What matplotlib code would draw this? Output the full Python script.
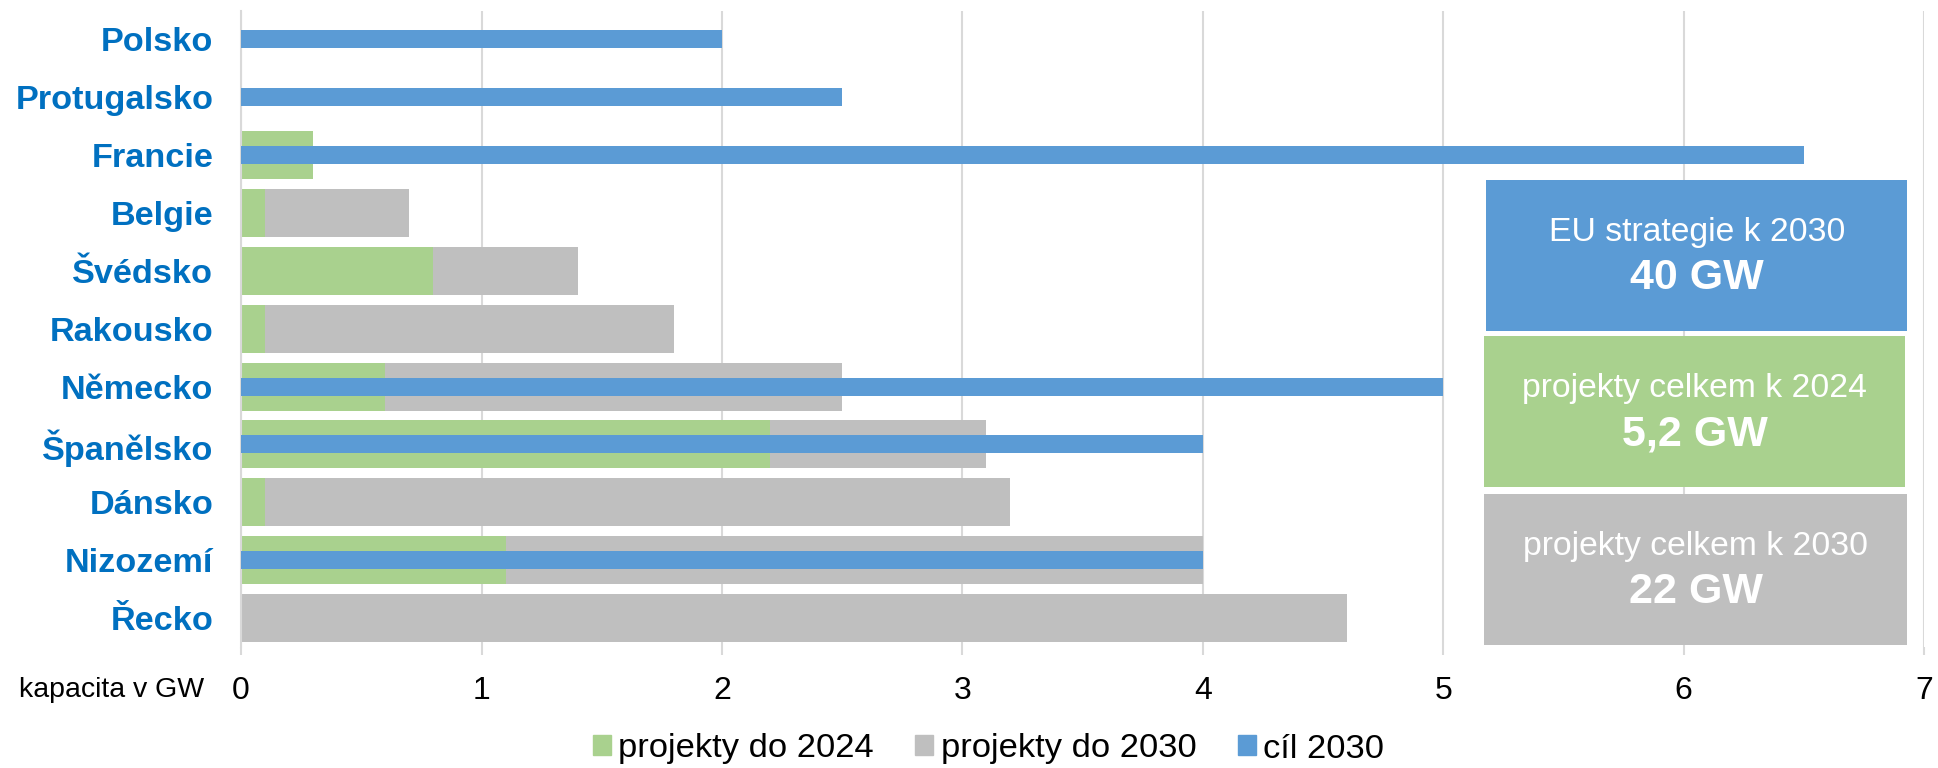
# ------------------ # Kapacita - projekty a cíle do 2030 # ------------------ #
import matplotlib.pyplot as plt
from matplotlib.patches import Patch, Rectangle

plt.rcParams['font.family'] = ['Liberation Sans', 'DejaVu Sans']

# ------------------------- # Data z grafu # ------------------------ #
zeme = ['Polsko', 'Protugalsko', 'Francie', 'Belgie', 'Švédsko', 'Rakousko',
        'Německo', 'Španělsko', 'Dánsko', 'Nizozemí', 'Řecko']
projekty_2024 = [0, 0, 0.3, 0.1, 0.8, 0.1, 0.6, 2.2, 0.1, 1.1, 0]
projekty_2030 = [0, 0, 0.3, 0.7, 1.4, 1.8, 2.5, 3.1, 3.2, 4.0, 4.6]  # celkem
cil_2030 = [2.0, 2.5, 6.5, 0, 0, 0, 5.0, 4.0, 0, 4.0, 0]

osa_ticky = [0, 1, 2, 3, 4, 5, 6, 7]
legenda = ['projekty do 2024', 'projekty do 2030', 'cíl 2030']

souhrn_popisky = ['EU strategie k 2030', 'projekty celkem k 2024',
                  'projekty celkem k 2030']
souhrn_hodnoty = ['40 GW', '5,2 GW', '22 GW']

# Barvy
zelena = '#A9D18E'
seda = '#BFBFBF'
modra = '#5B9BD5'
text_modra = '#0070C0'

fig = plt.figure(figsize=(19.38, 7.68), dpi=100)
ax = fig.add_axes([0.1244, 0.1576, 0.8684, 0.8287])

y = list(range(len(zeme)))
zbytek = [c - z for c, z in zip(projekty_2030, projekty_2024)]

# Sloupce (zelená + šedá skládaně, modrá přes ně uprostřed)
ax.barh(y, projekty_2024, height=0.83, color=zelena, zorder=2)
ax.barh(y, zbytek, left=projekty_2024, height=0.83, color=seda, zorder=2)
ax.barh(y, cil_2030, height=0.31, color=modra, zorder=3)

# Osy
ax.set_xlim(0, 7)
ax.set_ylim(len(zeme) - 0.5, -0.5)
ax.set_xticks(osa_ticky)
ax.set_xticklabels([str(t) for t in osa_ticky], fontsize=23)
ax.set_yticks(y)
ax.set_yticklabels(zeme, fontsize=24.7, fontweight='bold', color=text_modra)
ax.tick_params(axis='y', length=0, pad=20)
ax.tick_params(axis='x', length=6, color='#D9D9D9', width=1.5, pad=15)
ax.grid(axis='x', color='#D9D9D9', linewidth=1.5, zorder=0)
for s in ['top', 'right', 'bottom']:
    ax.spines[s].set_visible(False)
ax.spines['left'].set_color('#D9D9D9')
ax.spines['left'].set_linewidth(1.5)

fig.text(204 / 1938, 1 - 690 / 768, 'kapacita v GW', fontsize=20.5,
         ha='right', va='center')

# Souhrnné boxy vpravo
boxy = [(5.18, 6.93, 2.43, 5.04, modra),
        (5.17, 6.92, 5.13, 7.73, zelena),
        (5.17, 6.93, 7.85, 10.46, seda)]
for (x0, x1, y0, y1, barva), popis, hodnota in zip(boxy, souhrn_popisky,
                                                     souhrn_hodnoty):
    ax.add_patch(Rectangle((x0, y0), x1 - x0, y1 - y0, facecolor=barva,
                           edgecolor='none', zorder=4))
    xc = (x0 + x1) / 2
    yc = (y0 + y1) / 2
    ax.text(xc, yc - 0.39, popis, color='white', fontsize=24.3,
            ha='center', va='center', zorder=5)
    ax.text(xc, yc + 0.39, hodnota, color='white', fontsize=31,
            fontweight='bold', ha='center', va='center', zorder=5)

# Legenda
handles = [Patch(color=zelena), Patch(color=seda), Patch(color=modra)]
fig.legend(handles, legenda, loc='center', bbox_to_anchor=(0.51, 19 / 768),
           ncol=3, frameon=False, fontsize=24.8, handlelength=0.52,
           handleheight=0.52, handletextpad=0.22, columnspacing=1.2)

fig.savefig('out.png', dpi=100)
